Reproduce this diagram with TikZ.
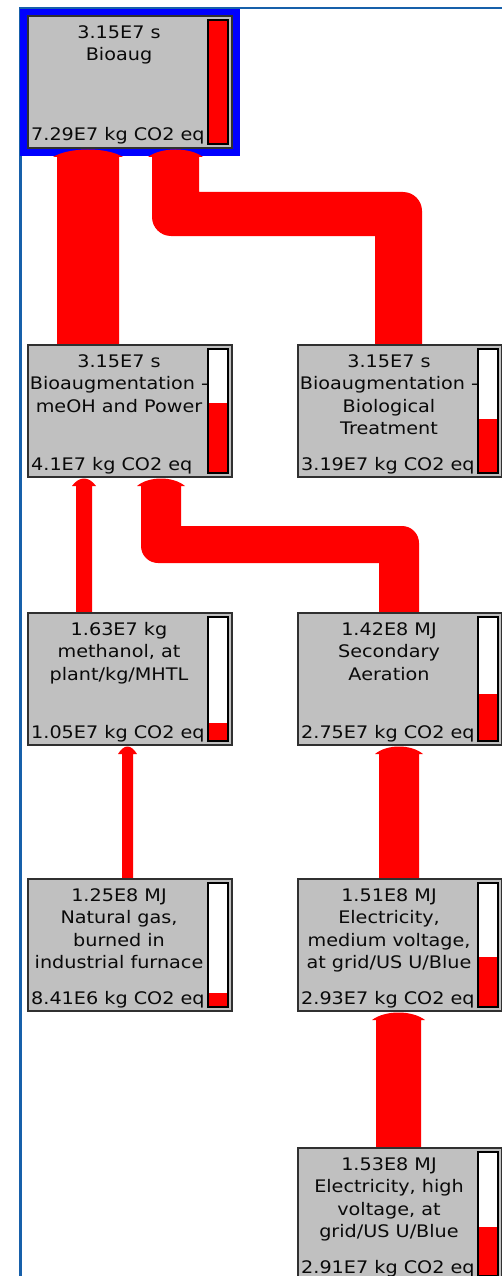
\documentclass[tikz,border=0pt]{standalone}
\usepackage{fontspec}
\newfontfamily\uifont{DejaVu Sans}[FakeStretch=1.11]
\usetikzlibrary{calc}
\pgfdeclarelayer{bg}\pgfdeclarelayer{mid}\pgfsetlayers{bg,mid,main}
\definecolor{frameblue}{RGB}{23,96,170}
\definecolor{selblue}{RGB}{0,0,255}
\definecolor{boxgray}{RGB}{192,192,192}
\definecolor{boxline}{RGB}{48,48,48}
\definecolor{flowred}{RGB}{255,0,0}
\definecolor{txt}{RGB}{10,10,10}
\tikzset{
 procbox/.style={draw=boxline, line width=1.5pt, fill=boxgray, inner sep=0, outer sep=0, minimum width=204pt, minimum height=132pt},
 titletext/.style={inner sep=0, align=center, text=txt, font=\uifont\fontsize{17.3}{22.5}\selectfont},
 valtext/.style={inner sep=0, text=txt, font=\uifont\fontsize{17.3}{22.5}\selectfont},
 barbox/.style={fill=white, inner sep=0, outer sep=0, minimum width=20pt, minimum height=124pt},
 barline/.style={draw=black, line width=1.3pt},
 barred/.style={fill=flowred},
 flow/.style={fill=flowred},
}
% process box: name, x, y, title, value, fraction
\newcommand\procnode[6]{%
 \node[procbox, anchor=north west] (#1) at (#2,#3) {};
 \node[titletext, anchor=north] (#1-t) at ($(#1.north west)+(91,7)$) {\rule{0pt}{15pt}#4};
 \node[valtext, anchor=base west] (#1-v) at ($(#1.south west)+(3,-7)$) {#5};
 \node[barbox, anchor=north west] (#1-b) at ($(#1.north west)+(180,4)$) {};
 \fill[barred] (#1-b.south west) rectangle ($(#1-b.south east)+(0,-#6*124)$);
 \draw[barline] (#1-b.south west) rectangle (#1-b.north east);
}
% straight upward flow: source, target, xL, xR
\newcommand\flowv[4]{%
 \fill[flow] let \p1=(#1.north), \p2=($(#2.south)+(0,9)$), \p3=($(#2.south)+(0,-1)$) in
  (#3pt,\y1) -- (#3pt,\y2) -- (#3pt-4pt,\y2)
  .. controls ({#3pt+0.2*(#4pt-#3pt)},\y3) and ({#4pt-0.2*(#4pt-#3pt)},\y3) .. (#4pt+4pt,\y2)
  -- (#4pt,\y2) -- (#4pt,\y1) -- cycle;}
% stepped flow: source, target, xL, xR (at target), yTop, yBottom of band, xL2, xR2 (at source), radius
\newcommand\flowz[9]{%
 \fill[flow] let \p1=(#1.north), \p2=($(#2.south)+(0,9)$), \p3=($(#2.south)+(0,-1)$), \p4=(0,#5), \p5=(0,#6) in
  (#3pt,\y2) -- (#3pt,{\y5+#9pt}) arc[start angle=180,end angle=270,radius=#9pt]
  -- (#7pt,\y5) -- (#7pt,\y1) -- (#8pt,\y1) -- (#8pt,{\y4-#9pt})
  arc[start angle=0,end angle=90,radius=#9pt] -- (#4pt,\y4) -- (#4pt,\y2) -- (#4pt+4pt,\y2)
  .. controls ({#4pt-0.2*(#4pt-#3pt)},\y3) and ({#3pt+0.2*(#4pt-#3pt)},\y3) .. (#3pt-4pt,\y2) -- cycle;}
\begin{document}
\begin{tikzpicture}[x=1pt,y=-1pt]
\useasboundingbox (0,0) rectangle (501,1276);
\begin{pgfonlayer}{bg}
 \fill[white] (0,0) rectangle (501,1276);
 \draw[frameblue, line width=2.2pt] (20.5,1280) -- (20.5,8.3) -- (505,8.3);
 \fill[selblue] (20,9) rectangle (240,156);
\end{pgfonlayer}

\procnode{bioaug}{28}{16}{3.15E7 s\\Bioaug}{7.29E7 kg CO2 eq}{1}
\procnode{meoh}{28}{345}{3.15E7 s\\Bioaugmentation -\\meOH and Power}{4.1E7 kg CO2 eq}{0.562}
\procnode{biotreat}{298}{345}{3.15E7 s\\Bioaugmentation -\\Biological\\Treatment}{3.19E7 kg CO2 eq}{0.4376}
\procnode{methanol}{28}{613}{1.63E7 kg\\methanol, at\\plant/kg/MHTL}{1.05E7 kg CO2 eq}{0.144}
\procnode{aeration}{298}{613}{1.42E8 MJ\\Secondary\\Aeration}{2.75E7 kg CO2 eq}{0.377}
\procnode{natgas}{28}{879}{1.25E8 MJ\\Natural gas,\\burned in\\industrial furnace}{8.41E6 kg CO2 eq}{0.1154}
\procnode{elecmed}{298}{879}{1.51E8 MJ\\Electricity,\\medium voltage,\\at grid/US U/Blue}{2.93E7 kg CO2 eq}{0.402}
\procnode{elechigh}{298}{1148}{1.53E8 MJ\\Electricity, high\\voltage, at\\grid/US U/Blue}{2.91E7 kg CO2 eq}{0.399}

\begin{pgfonlayer}{mid}
 \flowv{meoh}{bioaug}{57}{119}
 \flowz{biotreat}{bioaug}{152}{199}{192}{236}{375}{422}{19}
 \flowv{methanol}{meoh}{76}{92}
 \flowz{aeration}{meoh}{141}{181}{526}{563}{379}{419}{17}
 \flowv{natgas}{methanol}{122}{133}
 \flowv{elecmed}{aeration}{379}{419}
 \flowv{elechigh}{elecmed}{376}{421}
\end{pgfonlayer}
\end{tikzpicture}
\end{document}
